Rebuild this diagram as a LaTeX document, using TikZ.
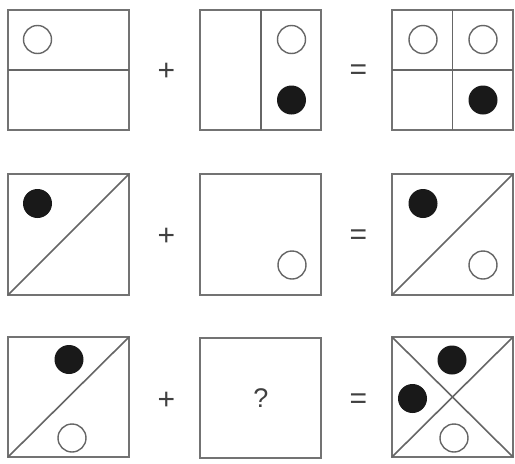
\documentclass[tikz,border=0pt]{standalone}
\usepackage{fontspec}
\setmainfont{Liberation Sans}
\begin{document}
\begin{tikzpicture}[x=1pt,y=-1pt,
  frame/.style={draw=black!55,line width=1.8pt},
  divider/.style={draw=black!60,line width=1.6pt},
  opendot/.style={draw=black!60,line width=1.4pt,fill=white},
  fulldot/.style={fill=black!90},
  sign/.style={text=black!75,font=\fontsize{30}{30}\selectfont,inner sep=0pt},
  qmark/.style={text=black!75,font=\fontsize{27}{27}\selectfont,inner sep=0pt}]
\useasboundingbox[fill=white] (0,0) rectangle (515,464);
% ---------- row 1 ----------
\draw[frame] (8,10) rectangle (129,130);
\draw[divider] (8,70) -- (129,70);
\draw[opendot] (37.5,39.5) circle (14);
\node[sign] (p1) at (166.5,72) {+};
\draw[frame] (200,10) rectangle (321,130);
\draw[divider] (261,10) -- (261,130);
\draw[opendot] (291.5,39.5) circle (14);
\fill[fulldot] (291.5,100) circle (14.5);
\node[sign] (e1) at (358.5,72) {=};
\draw[frame] (392,10) rectangle (513,130);
\draw[divider] (452.5,10) -- (452.5,130);
\draw[divider] (392,70) -- (513,70);
\draw[opendot] (423,39.5) circle (14);
\draw[opendot] (483,39.5) circle (14);
\fill[fulldot] (483,100) circle (14.5);
% ---------- row 2 ----------
\draw[frame] (8,174) rectangle (129,295);
\draw[divider] (8,295) -- (129,174);
\fill[fulldot] (37.5,203.5) circle (14.5);
\node[sign] (p2) at (166.5,237) {+};
\draw[frame] (200,174) rectangle (321,295);
\draw[opendot] (292,265) circle (14);
\node[sign] (e2) at (358.5,237) {=};
\draw[frame] (392,174) rectangle (513,295);
\draw[divider] (392,295) -- (513,174);
\fill[fulldot] (423,203.5) circle (14.5);
\draw[opendot] (483,265) circle (14);
% ---------- row 3 ----------
\draw[frame] (8,337) rectangle (129,457);
\draw[divider] (8,457) -- (129,337);
\fill[fulldot] (69,359.5) circle (14.5);
\draw[opendot] (72,438) circle (14);
\node[sign] (p3) at (166.5,401) {+};
\draw[frame] (200,338) rectangle (321,458);
\node[qmark] (q) at (261,398) {?};
\node[sign] (e3) at (358.5,401) {=};
\draw[frame] (392,337) rectangle (513,457);
\draw[divider] (392,457) -- (513,337);
\draw[divider] (392,337) -- (513,457);
\fill[fulldot] (452,360) circle (14.5);
\fill[fulldot] (412.5,398.5) circle (14.5);
\draw[opendot] (454,438) circle (14);
\end{tikzpicture}
\end{document}
